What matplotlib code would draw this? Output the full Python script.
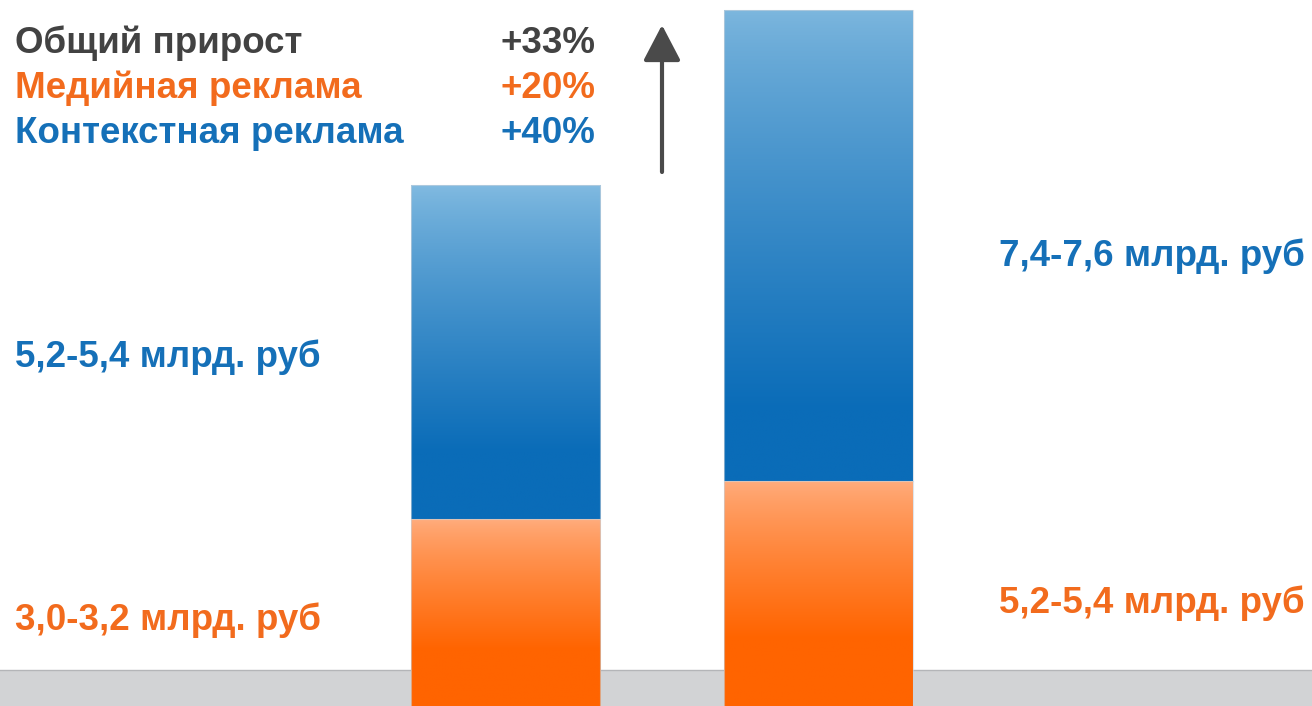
import numpy as np
import matplotlib
matplotlib.use("Agg")
import matplotlib.pyplot as plt
from matplotlib.colors import to_rgb

# ---- data (schematic bar heights, arbitrary units) ----
periods = ["Период 1", "Период 2"]
media_heights = [187, 225]        # orange segment (Медийная реклама)
context_heights = [334, 471]      # blue segment (Контекстная реклама)
media_labels = ["3,0-3,2 млрд. руб", "5,2-5,4 млрд. руб"]
context_labels = ["5,2-5,4 млрд. руб", "7,4-7,6 млрд. руб"]
growth_names = ["Общий прирост", "Медийная реклама", "Контекстная реклама"]
growth_values = ["+33%", "+20%", "+40%"]

GRAY_TXT = "#424242"
ORANGE = "#f26b1d"
BLUE = "#1570b8"
growth_colors = [GRAY_TXT, ORANGE, BLUE]

W, H = 1312, 706
fig = plt.figure(figsize=(W / 100, H / 100), dpi=100)
ax = fig.add_axes([0, 0, 1, 1])
ax.set_axis_off()

# x scale: category 0 centered at px 505.5, category 1 at 818.5
step = 313.0
x_pos = np.arange(len(periods))
ax.set_xlim(-505.5 / step, 1 + (W - 818.5) / step)
ax.set_ylim(0, H)
bar_w = 189 / step

# floor band
ax.axhspan(0, 36, color="#d2d3d5", zorder=0, lw=0)
ax.axhline(36, color="#b4b5b8", lw=1.0, zorder=0.5)


def grad(top, bottom, n=256, reach=0.75):
    t = np.linspace(0, 1, n)
    t = np.clip(t / reach, 0, 1) ** 0.8
    top = np.array(to_rgb(top)); bottom = np.array(to_rgb(bottom))
    arr = top[None, :] * (1 - t[:, None]) + bottom[None, :] * t[:, None]
    return arr[:, None, :]


orange_grad = grad("#ffad7e", "#ff6400", reach=0.7)
blue_grad_l = grad("#82bbe1", "#0a6cb8", reach=0.8)
blue_grad_r = grad("#7db7de", "#0a6cb8", reach=0.85)

bars_m = ax.bar(x_pos, media_heights, width=bar_w, color="#ff7a20",
                zorder=2, lw=0)
bars_c = ax.bar(x_pos, context_heights, width=bar_w, bottom=media_heights,
                color="#1f7ac2", zorder=2, lw=0)

for bars, grads in ((bars_m, [orange_grad, orange_grad]),
                    (bars_c, [blue_grad_l, blue_grad_r])):
    for p, g in zip(bars, grads):
        x0, y0 = p.get_x(), p.get_y()
        x1, y1 = x0 + p.get_width(), y0 + p.get_height()
        im = ax.imshow(g, extent=[x0, x1, y0, y1], aspect="auto",
                       zorder=3, interpolation="bilinear")
        im.set_clip_path(p)
        ax.plot([x0, x0, x1, x1], [y0, y1, y1, y0], color="#c9d3dc",
                lw=0.8, zorder=4, alpha=0.6)

# growth arrow between bars
ax.annotate("", xy=(0.5, H - 25), xytext=(0.5, H - 172),
            arrowprops=dict(arrowstyle="-|>,head_width=1.15,head_length=2.2",
                            color="#4a4a4a", lw=3.0, shrinkA=0, shrinkB=0),
            zorder=5)

font = dict(family=["Liberation Sans", "DejaVu Sans"], fontweight="bold",
            fontsize=26.5)

# legend-like growth block (baselines)
ys = [53, 98, 143]
for name, val, c, y in zip(growth_names, growth_values, growth_colors, ys):
    fig.text(15 / W, 1 - y / H, name, color=c, ha="left", va="baseline", **font)
    fig.text(595 / W, 1 - y / H, val, color=c, ha="right", va="baseline", **font)

# value labels
fig.text(15 / W, 1 - 367 / H, context_labels[0], color=BLUE, ha="left",
         va="baseline", **font)
fig.text(15 / W, 1 - 630 / H, media_labels[0], color=ORANGE, ha="left",
         va="baseline", **font)
fig.text(1305 / W, 1 - 266 / H, context_labels[1], color=BLUE, ha="right",
         va="baseline", **font)
fig.text(1305 / W, 1 - 613 / H, media_labels[1], color=ORANGE, ha="right",
         va="baseline", **font)

fig.savefig("out.png", dpi=100, facecolor="white")
